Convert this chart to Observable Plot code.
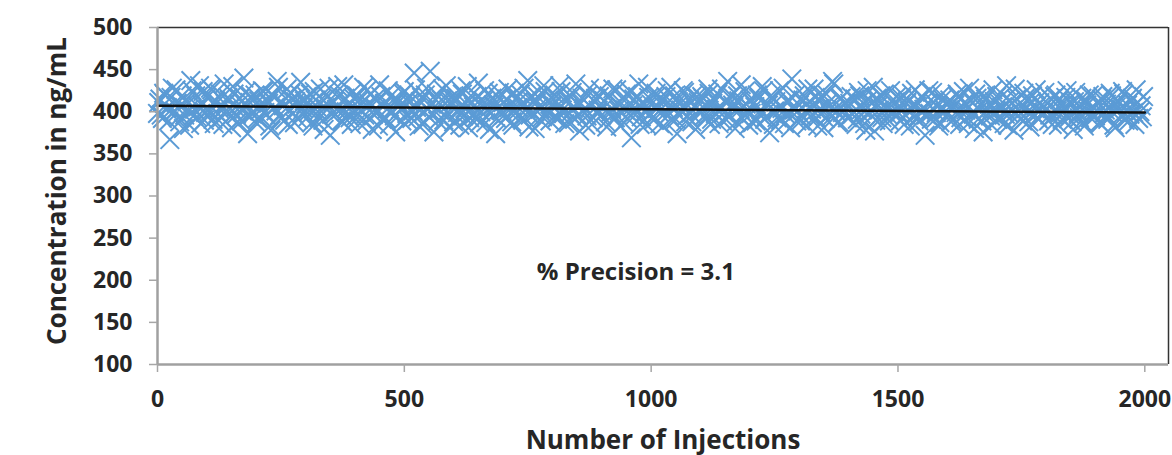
<!DOCTYPE html>
<html>
<head>
<meta charset="utf-8">
<script src="https://cdn.jsdelivr.net/npm/d3@7"></script>
<script src="https://cdn.jsdelivr.net/npm/@observablehq/plot@0.6"></script>
<style>
  html, body { margin: 0; padding: 0; background: #fff; }
  #chart svg g[aria-label="y-axis tick"] path,
  #chart svg g[aria-label="x-axis tick"] path { stroke: #a6a6a6; stroke-width: 1.5; }
</style>
</head>
<body>
<div id="chart"></div>
<script>
// Concentration (ng/mL) read approximately, injections 0, 5, 10, ...
const concentrationA = [
  398,415,392,420,405,367,428,401,410,388,419,396,412,384,425,403,394,431,408,390,
  417,399,426,386,411,404,393,433,402,414,381,421,397,409,389,440,406,395,418,400,
  387,413,403,424,396,410,378,419,401,429,392,407,416,385,422,398,412,391,435,404,
  409,394,421,383,414,400,427,390,405,418,372,411,397,430,402,388,416,406,393,423,
  401,419,386,412,396,426,408,379,415,399,432,391,410,403,385,420,395,413,407,389,
  424,398,411,392,446,405,383,417,400,428,394,409,376,421,402,414,390,431,397,412,
  388,416,403,425,395,410,381,419,406,393,434,400,413,387,422,398,408,374,418,402,
  411,392,427,399,384,415,405,421,390,409,437,396,412,380,418,403,394,424,400,389,
  407,420,393,431,402,386,414,398,423,391,410,377,416,404,395,428,385,412,399,418,
  396,413,382,419,404,392,426,401,410,387,421,398,369,415,403,433,394,408,385,417,
  409,390,422,400,414,383,418,396,429,405,391,412,402,425,388,407,398,420,379,411,
  401,416,393,427,385,410,398,421,404,389,413,436,395,408,380,419,403,392,424,399,
  414,387,406,420,397,430,391,410,375,417,401,393,425,404,386,412,398,439,402,389,
  408,395,419,384,412,403,427,392,415,399,381,421,406,394,433,400,388,416,402,410,
  393,418,400,385,423,397,410,378,414,402,429,390,407,419,386,404,396,425,399,412,
  405,389,420,396,413,383,408,426,394,401,417,372,410,398,423,391,406,387,415,400,
  397,414,390,408,421,385,403,411,393,428,399,380,416,402,389,419,396,409,384,412,
  418,394,405,386,431,398,410,378,415,401,392,422,404,388,412,397,426,391,407,399,
  403,389,415,396,420,384,408,400,417,392,411,379,423,398,406,387,414,401,393,419,
  395,410,386,418,402,391,422,399,381,413,404,424,390,408,397,416,385,411,400,394
];
// Concentration (ng/mL) read approximately, injections 2.5, 7.5, 12.5, ...
const concentrationB = [
  411,396,422,404,389,417,400,426,393,408,380,414,402,437,395,419,406,386,424,399,
  403,428,391,413,398,421,385,409,417,394,430,405,388,416,401,423,374,411,397,420,
  392,408,425,399,414,383,419,405,436,396,411,390,427,402,415,387,409,421,398,413,
  418,401,387,424,406,393,415,379,410,428,397,412,403,420,389,432,400,408,385,416,
  395,413,402,429,388,410,421,397,404,383,418,407,392,425,399,414,376,411,403,422,
  407,390,418,401,426,394,412,385,420,403,448,398,415,389,409,427,396,413,381,418,
  412,399,384,421,404,430,393,411,397,418,387,408,425,402,379,416,406,392,423,401,
  396,415,405,388,422,400,413,392,428,403,382,419,397,411,406,389,431,398,414,408,
  415,392,409,424,398,412,387,418,404,433,395,410,401,384,420,406,393,416,402,426,
  404,388,417,399,427,393,410,383,415,402,392,424,407,396,418,385,411,400,429,398,
  393,417,404,386,412,398,425,407,390,419,374,409,401,423,395,414,388,406,418,402,
  418,395,407,422,391,414,403,386,427,399,410,394,419,405,388,413,432,397,409,384,
  398,410,389,416,402,425,394,408,419,385,412,403,390,428,397,414,381,406,420,401,
  389,414,401,427,395,408,417,383,404,420,392,410,398,436,403,387,415,399,411,393,
  410,397,415,391,419,403,386,425,398,411,377,416,402,393,421,406,389,413,400,418,
  398,416,385,410,401,422,394,407,389,418,403,396,425,391,411,399,383,420,404,409,
  411,388,406,399,417,393,424,402,386,413,397,421,391,408,376,415,403,395,426,400,
  391,409,420,397,384,413,402,427,395,406,389,416,400,382,419,404,393,411,398,423,
  410,396,385,418,401,414,391,406,425,397,388,412,402,393,416,383,408,420,396,404,
  402,387,415,398,409,393,419,384,406,412,396,421,401,389,414,399,426,392,407,418
];
const injectionStep = 5;
const offsetB = 2.5;
const trendInjections = [0, 2000];
const trendValues = [407, 399];
const xTicks = [0, 500, 1000, 1500, 2000];
const yTicks = [100, 150, 200, 250, 300, 350, 400, 450, 500];
const xDomain = [0, 2048];
const yDomain = [100, 500];
const xTitle = "Number of Injections";
const yTitle = "Concentration in ng/mL";
const annotation = [{injection: 969, value: 210, text: "% Precision = 3.1"}];

const points = [
  ...concentrationA.map((v, i) => ({injection: i * injectionStep, value: v})),
  ...concentrationB.map((v, i) => ({injection: i * injectionStep + offsetB, value: v}))
];
const trend = trendInjections.map((x, i) => ({injection: x, value: trendValues[i]}));

const chart = Plot.plot({
  width: 1172,
  height: 455,
  marginLeft: 157,
  marginRight: 4,
  marginTop: 27,
  marginBottom: 91,
  style: {
    fontFamily: "'Open Sans', sans-serif",
    fontWeight: 700,
    fontSize: "23px",
    color: "#262626",
    background: "#fff",
    overflow: "visible"
  },
  x: {domain: xDomain},
  y: {domain: yDomain},
  marks: [
    Plot.ruleY([yDomain[1]], {stroke: "#333", strokeWidth: 1.5}),
    Plot.ruleX([xDomain[1]], {stroke: "#333", strokeWidth: 1.5}),
    Plot.dot(points, {x: "injection", y: "value", symbol: "times", r: 8.5, stroke: "#5b9bd5", strokeWidth: 2}),
    Plot.line(trend, {x: "injection", y: "value", stroke: "#111", strokeWidth: 2.5}),
    Plot.ruleX([xDomain[0]], {stroke: "#a0a0a0", strokeWidth: 2.5}),
    Plot.ruleY([yDomain[0]], {stroke: "#a0a0a0", strokeWidth: 2.5}),
    Plot.axisY({ticks: yTicks, tickSize: 8, tickPadding: 17, label: null, fontSize: 23, tickFormat: d => String(d)}),
    Plot.axisX({ticks: xTicks, tickSize: 8, tickPadding: 18, label: null, fontSize: 23, tickFormat: d => String(d)}),
    Plot.text([xTitle], {frameAnchor: "bottom", dy: 76, lineAnchor: "middle", fontSize: 26, fill: "#262626"}),
    Plot.text([yTitle], {frameAnchor: "left", dx: -100, dy: -5, rotate: -90, textAnchor: "middle", lineAnchor: "middle", fontSize: 26, fill: "#262626"}),
    Plot.text(annotation, {x: "injection", y: "value", text: "text", fontSize: 24, lineAnchor: "middle", fill: "#262626"})
  ]
});
document.getElementById("chart").appendChild(chart);
</script>
</body>
</html>
